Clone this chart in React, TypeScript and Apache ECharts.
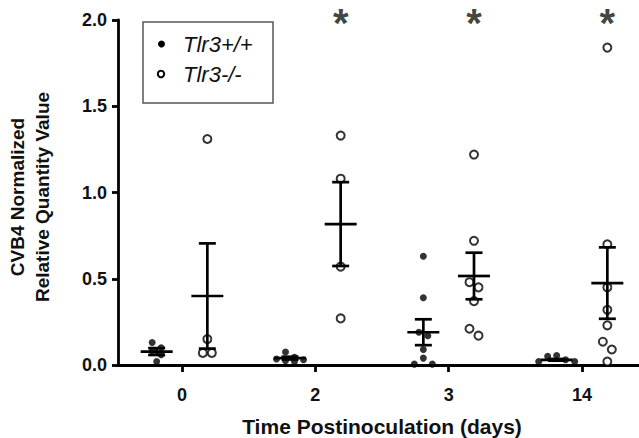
import React, { useEffect, useRef } from "react";
import * as echarts from "echarts";

// ---- data ----
const categories = ["0", "2", "3", "14"];
const seriesNames = ["Tlr3+/+", "Tlr3-/-"];

// Tlr3+/+ individual values per time point
const wtDay0 = [0.13, 0.1, 0.08, 0.06, 0.02];
const wtDay2 = [0.075, 0.045, 0.035, 0.03, 0.025, 0.02];
const wtDay3 = [0.63, 0.39, 0.19, 0.17, 0.09, 0.04, 0.005, 0.005];
const wtDay14 = [0.055, 0.05, 0.03, 0.02, 0.02];

// Tlr3-/- individual values per time point
const koDay0 = [1.31, 0.15, 0.07, 0.07];
const koDay2 = [1.33, 1.08, 0.57, 0.27];
const koDay3 = [1.22, 0.72, 0.48, 0.45, 0.37, 0.21, 0.17];
const koDay14 = [1.84, 0.7, 0.45, 0.32, 0.23, 0.135, 0.09, 0.02];

// mean and SEM as drawn
const meanWT = [0.078, 0.04, 0.19, 0.03];
const semWT = [0.02, 0.008, 0.075, 0.005];
const meanKO = [0.4, 0.817, 0.516, 0.475];
const semKO = [0.305, 0.243, 0.135, 0.207];

// significance markers (categories)
const sigCategories = ["2", "3", "14"];
const yTicks = [0, 0.5, 1.0, 1.5, 2.0];

// ---- layout ----
const W = 639;
const H = 438;
const GRID = { left: 118, right: 0, top: 20, bottom: 73 };
const X_MIN = -0.48;
const X_MAX = 3.4275;
const Y_MAX = 2.0;
const PX_PER_Y = (H - GRID.top - GRID.bottom) / Y_MAX;
const PX_PER_X = (W - GRID.left - GRID.right) / (X_MAX - X_MIN);
const GROUP_OFFSET = 0.19;
const SWARM_STEP = 9 / PX_PER_X;
const ROW_TOL_PX = 8;
const FONT = "'Liberation Sans', Arial, Helvetica, sans-serif";
const INK = "#111";

function swarm(vals: number[], center: number): number[][] {
  const sorted = [...vals].sort((a, b) => b - a);
  const out: number[][] = [];
  let i = 0;
  while (i < sorted.length) {
    const row = [sorted[i]];
    let j = i + 1;
    while (j < sorted.length && (sorted[i] - sorted[j]) * PX_PER_Y < ROW_TOL_PX) {
      row.push(sorted[j]);
      j++;
    }
    const n = row.length;
    const slots: number[] = [];
    for (let k = 0; k < n; k++) slots.push(k - (n - 1) / 2);
    slots.sort((a, b) => Math.abs(a) - Math.abs(b) || a - b);
    row.forEach((v, k) => out.push([center + slots[k] * SWARM_STEP, v]));
    i = j;
  }
  return out;
}

export default function App() {
  const ref = useRef<HTMLDivElement>(null);

  useEffect(() => {
    if (!ref.current) return;
    const chart = echarts.init(ref.current, null, { renderer: "svg" });

    const wtGroups = [wtDay0, wtDay2, wtDay3, wtDay14];
    const koGroups = [koDay0, koDay2, koDay3, koDay14];
    const wtPoints = wtGroups.flatMap((g, i) => swarm(g, i - GROUP_OFFSET));
    const koPoints = koGroups.flatMap((g, i) => swarm(g, i + GROUP_OFFSET));

    const errWT = meanWT.map((m, i) => [i - GROUP_OFFSET, m, semWT[i]]);
    const errKO = meanKO.map((m, i) => [i + GROUP_OFFSET, m, semKO[i]]);
    const sigData = sigCategories.map((c) => [categories.indexOf(c) + GROUP_OFFSET, Y_MAX]);

    const renderErr = (params: any, api: any) => {
      const x = api.value(0);
      const m = api.value(1);
      const s = api.value(2);
      const c = api.coord([x, m]);
      const hi = api.coord([x, m + s]);
      const lo = api.coord([x, Math.max(0, m - s)]);
      const style = { stroke: "#000", lineWidth: 2.7 };
      return {
        type: "group",
        children: [
          { type: "line", shape: { x1: c[0], y1: hi[1], x2: c[0], y2: lo[1] }, style },
          { type: "line", shape: { x1: c[0] - 16, y1: c[1], x2: c[0] + 16, y2: c[1] }, style },
          { type: "line", shape: { x1: c[0] - 8.5, y1: hi[1], x2: c[0] + 8.5, y2: hi[1] }, style },
          { type: "line", shape: { x1: c[0] - 8.5, y1: lo[1], x2: c[0] + 8.5, y2: lo[1] }, style },
        ],
      };
    };

    const tickVals = categories.map((_, i) => i);
    const legendText = { fontSize: 22, fontStyle: "italic", fontFamily: FONT, fill: INK, verticalAlign: "middle", align: "left" };

    chart.setOption({
      animation: false,
      backgroundColor: "#fff",
      textStyle: { fontFamily: FONT },
      grid: { ...GRID, containLabel: false, outerBoundsMode: "none" },
      xAxis: {
        type: "value",
        min: X_MIN,
        max: X_MAX,
        splitLine: { show: false },
        axisLine: { show: true, onZero: false, lineStyle: { color: "#000", width: 2.8 } },
        axisTick: { show: true, customValues: tickVals, length: 7, lineStyle: { color: "#000", width: 2.8 } },
        axisLabel: {
          customValues: tickVals,
          formatter: (v: number) => categories[Math.round(v)] ?? "",
          fontSize: 18,
          fontWeight: "bold",
          color: INK,
          margin: 21,
          fontFamily: FONT,
        },
        name: "Time Postinoculation (days)",
        nameLocation: "middle",
        nameGap: 51,
        nameTextStyle: { fontSize: 21, fontWeight: "bold", color: INK, padding: [0, 0, 0, 7], fontFamily: FONT },
      },
      yAxis: {
        type: "value",
        min: 0,
        max: Y_MAX,
        interval: 0.5,
        splitLine: { show: false },
        axisLine: { show: true, onZero: false, lineStyle: { color: "#000", width: 2.8 } },
        axisTick: { show: true, length: 6, lineStyle: { color: "#000", width: 2.8 } },
        axisLabel: {
          formatter: (v: number) => (yTicks.includes(v) ? v.toFixed(1) : ""),
          fontSize: 18,
          fontWeight: "bold",
          color: INK,
          margin: 11,
          fontFamily: FONT,
        },
      },
      graphic: [
        {
          type: "text",
          x: 17,
          y: 197,
          rotation: Math.PI / 2,
          style: { text: "CVB4 Normalized", fontSize: 19, fontWeight: "bold", fontFamily: FONT, fill: INK, align: "center", verticalAlign: "middle" },
        },
        {
          type: "text",
          x: 42,
          y: 197,
          rotation: Math.PI / 2,
          style: { text: "Relative Quantity Value", fontSize: 19, fontWeight: "bold", fontFamily: FONT, fill: INK, align: "center", verticalAlign: "middle" },
        },
        {
          type: "group",
          children: [
            { type: "rect", shape: { x: 143, y: 22, width: 130, height: 81 }, style: { fill: "#fff", stroke: "#555", lineWidth: 1.5 } },
            { type: "circle", shape: { cx: 161.5, cy: 44, r: 3.5 }, style: { fill: "#000" } },
            { type: "text", x: 183, y: 44, style: { ...legendText, text: seriesNames[0] } },
            { type: "circle", shape: { cx: 161, cy: 74, r: 3.2 }, style: { fill: "#fff", stroke: "#000", lineWidth: 2 } },
            { type: "text", x: 183, y: 74, style: { ...legendText, text: seriesNames[1] } },
          ],
        },
      ],
      series: [
        {
          name: seriesNames[0],
          type: "scatter",
          data: wtPoints,
          symbol: "circle",
          symbolSize: 7,
          itemStyle: { color: "#000" },
          z: 2,
        },
        {
          name: seriesNames[1],
          type: "scatter",
          data: koPoints,
          symbol: "circle",
          symbolSize: 8,
          itemStyle: { color: "#fff", borderColor: "#000", borderWidth: 2 },
          z: 2,
        },
        {
          name: "errWT",
          type: "custom",
          data: errWT,
          encode: { x: 0, y: 1 },
          renderItem: renderErr,
          z: 3,
          clip: false,
        },
        {
          name: "errKO",
          type: "custom",
          data: errKO,
          encode: { x: 0, y: 1 },
          renderItem: renderErr,
          z: 3,
          clip: false,
        },
        {
          name: "sig",
          type: "scatter",
          data: sigData,
          symbolSize: 1,
          itemStyle: { color: "rgba(0,0,0,0)" },
          clip: false,
          label: {
            show: true,
            position: "inside",
            formatter: "*",
            fontSize: 40,
            fontWeight: "bold",
            color: INK,
            fontFamily: FONT,
            offset: [0, 3],
          },
          z: 4,
        },
      ],
    });

    return () => chart.dispose();
  }, []);

  return (
    <div
      ref={ref}
      style={{ position: "absolute", left: 0, top: 0, width: W, height: H, background: "#fff" }}
    />
  );
}
